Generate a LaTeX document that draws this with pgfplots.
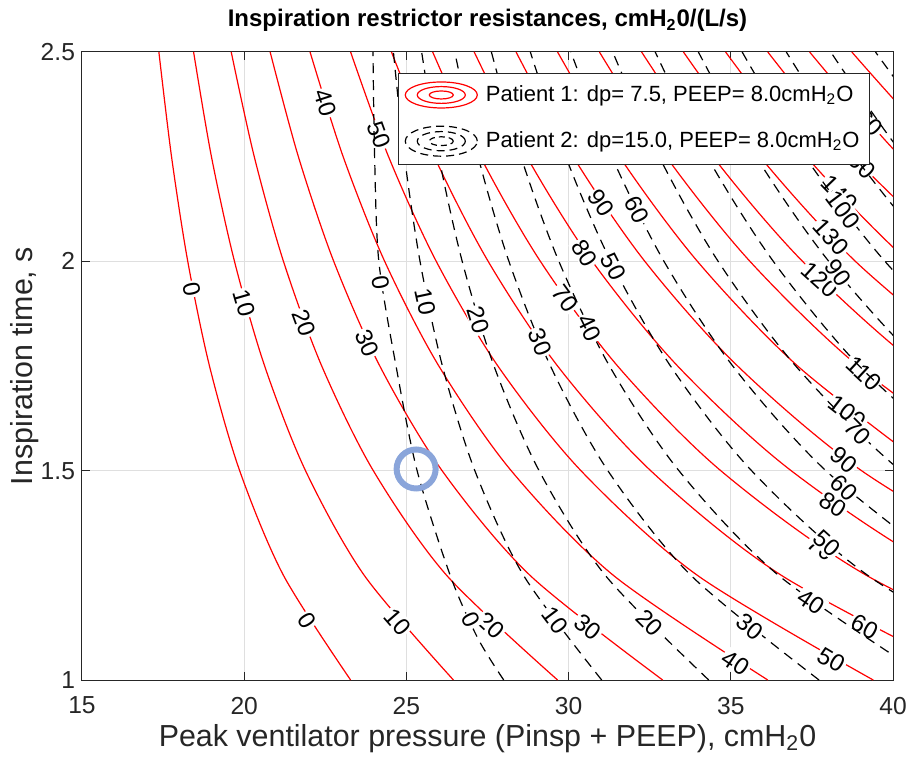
\documentclass[border=0pt]{standalone}
\usepackage{pgfplots}
\pgfplotsset{compat=1.18}
\usepackage{fontspec}
\setmainfont{Liberation Sans}
\definecolor{axgray}{RGB}{38,38,38}
\definecolor{gridgray}{RGB}{223,223,223}
\definecolor{circblue}{RGB}{138,165,218}

\begin{document}
\begin{tikzpicture}[
  clab/.style={fill=white, inner sep=0.8pt, font=\fontsize{12}{12}\selectfont},
  bdash/.style={dash pattern=on 5pt off 3.5pt}
]
\begin{axis}[
  name=ax,
  scale only axis, width=405.5pt, height=314pt,
  xmin=15, xmax=40, ymin=1, ymax=2.5,
  xtick={15,20,...,40}, ytick={1,1.5,2,2.5},
  xtick pos=both, ytick pos=both,
  grid=major, grid style={gridgray, line width=0.5pt},
  axis line style={axgray, line width=0.5pt},
  tick style={axgray, line width=0.5pt},
  tick align=inside, major tick length=4pt,
  ticklabel style={font=\fontsize{12.3}{14}\selectfont, text=axgray},
  xticklabel style={yshift=-5pt},
  /pgf/number format/assume math mode=true,
  title={\bfseries Inspiration restrictor resistances, cmH\textsubscript{2}0/(L/s)},
  title style={at={(axis description cs:0.5,1)}, anchor=base, yshift=6.5pt,
    font=\fontsize{12}{15}\selectfont},
  xlabel={Peak ventilator pressure (Pinsp + PEEP), cmH\textsubscript{2}0},
  xlabel style={at={(axis description cs:0.5,0)}, anchor=base, yshift=-33pt,
    font=\fontsize{15.2}{18}\selectfont, text=axgray},
  ylabel={Inspiration time, s},
  ylabel style={at={(axis description cs:-0.0703,0.5)}, anchor=center,
    font=\fontsize{15.2}{18}\selectfont, text=axgray},
  legend cell align=left,
  legend style={at={(axis description cs:0.39,0.9666)}, anchor=north west,
    draw=axgray, fill=white, font=\fontsize{11}{13}\selectfont,
    inner xsep=3pt, inner ysep=4pt, row sep=8.5pt},
]
\addlegendimage{legend image code/.code={
  \draw[red, line width=0.6pt] (18pt,0pt) ellipse [x radius=18pt, y radius=6.5pt];
  \draw[red, line width=0.6pt] (18pt,0pt) ellipse [x radius=12pt, y radius=4.2pt];
  \draw[red, line width=0.6pt] (18pt,0pt) ellipse [x radius=6pt, y radius=2pt];}}
\addlegendentry{\hspace{2pt}Patient 1: dp= 7.5, PEEP= 8.0cmH\textsubscript{2}O\hspace{3pt}}
\addlegendimage{legend image code/.code={
  \draw[black, line width=0.6pt, dash pattern=on 4pt off 2.5pt] (18pt,0pt) ellipse [x radius=18pt, y radius=7.5pt];
  \draw[black, line width=0.6pt, dash pattern=on 4pt off 2.5pt] (18pt,0pt) ellipse [x radius=12pt, y radius=4.8pt];
  \draw[black, line width=0.6pt, dash pattern=on 3pt off 2pt] (18pt,0pt) ellipse [x radius=6pt, y radius=2.2pt];}}
\addlegendentry{\hspace{2pt}Patient 2: dp=15.0, PEEP= 8.0cmH\textsubscript{2}O\hspace{3pt}}

% ---- patient 1 (red), R = 0,10,...,170
\pgfplotsset{every axis plot/.append style={forget plot}}
\addplot[red, line width=0.6pt, smooth] coordinates {(23.28,1)(21.21,1.25)(19.86,1.5)(18.93,1.75)(18.26,2)(17.76,2.25)(17.37,2.5)};
\addplot[red, line width=0.6pt, smooth] coordinates {(26.45,1)(23.70,1.25)(21.89,1.5)(20.63,1.75)(19.70,2)(18.99,2.25)(18.44,2.5)};
\addplot[red, line width=0.6pt, smooth] coordinates {(29.66,1)(26.24,1.25)(23.98,1.5)(22.39,1.75)(21.21,2)(20.31,2.25)(19.60,2.5)};
\addplot[red, line width=0.6pt, smooth] coordinates {(32.90,1)(28.81,1.25)(26.10,1.5)(24.18,1.75)(22.76,2)(21.67,2.25)(20.80,2.5)};
\addplot[red, line width=0.6pt, smooth] coordinates {(36.14,1)(31.38,1.25)(28.23,1.5)(26.00,1.75)(24.33,2)(23.05,2.25)(22.03,2.5)};
\addplot[red, line width=0.6pt, smooth] coordinates {(39.39,1)(33.97,1.25)(30.38,1.5)(27.82,1.75)(25.92,2)(24.45,2.25)(23.28,2.5)};
\addplot[red, line width=0.6pt, smooth] coordinates {(42.64,1)(36.56,1.25)(32.53,1.5)(29.66,1.75)(27.52,2)(25.86,2.25)(24.54,2.5)};
\addplot[red, line width=0.6pt, smooth] coordinates {(45.90,1)(39.18,1.25)(34.69,1.5)(31.51,1.75)(29.13,2)(27.28,2.25)(25.81,2.5)};
\addplot[red, line width=0.6pt, smooth] coordinates {(49.16,1)(41.78,1.25)(36.86,1.5)(33.36,1.75)(30.73,2)(28.71,2.25)(27.09,2.5)};
\addplot[red, line width=0.6pt, smooth] coordinates {(44.38,1.25)(39.03,1.5)(35.21,1.75)(32.35,2)(30.14,2.25)(28.38,2.5)};
\addplot[red, line width=0.6pt, smooth] coordinates {(41.19,1.5)(37.06,1.75)(33.97,2)(31.57,2.25)(29.66,2.5)};
\addplot[red, line width=0.6pt, smooth] coordinates {(43.36,1.5)(38.92,1.75)(35.59,2)(33.01,2.25)(30.95,2.5)};
\addplot[red, line width=0.6pt, smooth] coordinates {(45.55,1.5)(40.79,1.75)(37.21,2)(34.45,2.25)(32.25,2.5)};
\addplot[red, line width=0.6pt, smooth] coordinates {(42.64,1.75)(38.84,2)(35.90,2.25)(33.54,2.5)};
\addplot[red, line width=0.6pt, smooth] coordinates {(44.50,1.75)(40.47,2)(37.33,2.25)(34.84,2.5)};
\addplot[red, line width=0.6pt, smooth] coordinates {(42.11,2)(38.78,2.25)(36.14,2.5)};
\addplot[red, line width=0.6pt, smooth] coordinates {(43.73,2)(40.23,2.25)(37.43,2.5)};
\addplot[red, line width=0.6pt, smooth] coordinates {(45.36,2)(41.68,2.25)(38.73,2.5)};

\node[clab, rotate=-78] at (axis cs:18.40,1.934) {0};
\node[clab, rotate=-74] at (axis cs:20.00,1.900) {10};
\node[clab, rotate=-70] at (axis cs:21.84,1.853) {20};
\node[clab, rotate=-66] at (axis cs:23.80,1.805) {30};
\node[clab, rotate=-72] at (axis cs:22.50,2.378) {40};
\node[clab, rotate=-70] at (axis cs:24.15,2.302) {50};
\node[clab, rotate=-54] at (axis cs:29.89,1.912) {70};
\node[clab, rotate=-58] at (axis cs:30.50,2.020) {80};
\node[clab, rotate=-56] at (axis cs:31.00,2.139) {90};
\node[clab, rotate=-57] at (axis cs:21.95,1.143) {0};
\node[clab, rotate=-49] at (axis cs:24.72,1.139) {10};
\node[clab, rotate=-43] at (axis cs:27.60,1.131) {20};
\node[clab, rotate=-38] at (axis cs:30.59,1.127) {30};
\node[clab, rotate=-34] at (axis cs:35.15,1.041) {40};
\node[clab, rotate=-31] at (axis cs:38.10,1.048) {50};
\node[clab, rotate=-28] at (axis cs:39.12,1.127) {60};
\node[clab, rotate=-36] at (axis cs:37.78,1.315) {70};
\node[clab, rotate=-33] at (axis cs:38.15,1.418) {80};
\node[clab, rotate=-40] at (axis cs:38.48,1.526) {90};
\node[clab, rotate=-38] at (axis cs:38.60,1.640) {100};
\node[clab, rotate=-43] at (axis cs:39.10,1.733) {110};
\node[clab, rotate=-42] at (axis cs:37.75,1.955) {120};
\node[clab, rotate=-48] at (axis cs:38.09,2.058) {130};
\node[clab, rotate=-46] at (axis cs:38.35,2.163) {140};
\node[clab, rotate=-45] at (axis cs:38.90,2.240) {150};
\node[clab, rotate=-45] at (axis cs:39.14,2.342) {160};

% ---- patient 2 (black dashed), R = 0,10,...,130
\addplot[black, line width=0.6pt, bdash, smooth] coordinates {(28.00,1)(27.20,1.1)(26.35,1.25)(25.33,1.5)(24.68,1.75)(24.15,2)(24.02,2.25)(23.97,2.5)};
\addplot[black, line width=0.6pt, bdash, smooth] coordinates {(31.02,1)(28.61,1.25)(27.11,1.5)(26.11,1.75)(25.42,2)(24.94,2.25)(24.60,2.5)};
\addplot[black, line width=0.6pt, bdash, smooth] coordinates {(34.32,1)(31.13,1.25)(29.09,1.5)(27.70,1.75)(26.72,2)(26.00,2.25)(25.47,2.5)};
\addplot[black, line width=0.6pt, bdash, smooth] coordinates {(37.72,1)(33.77,1.25)(31.21,1.5)(29.44,1.75)(28.16,2)(27.21,2.25)(26.49,2.5)};
\addplot[black, line width=0.6pt, bdash, smooth] coordinates {(41.18,1)(36.47,1.25)(33.40,1.5)(31.26,1.75)(29.70,2)(28.53,2.25)(27.62,2.5)};
\addplot[black, line width=0.6pt, bdash, smooth] coordinates {(44.67,1)(39.22,1.25)(35.64,1.5)(33.14,1.75)(31.30,2)(29.91,2.25)(28.82,2.5)};
\addplot[black, line width=0.6pt, bdash, smooth] coordinates {(41.99,1.25)(37.93,1.5)(35.06,1.75)(32.94,2)(31.33,2.25)(30.07,2.5)};
\addplot[black, line width=0.6pt, bdash, smooth] coordinates {(44.79,1.25)(40.23,1.5)(37.00,1.75)(34.61,2)(32.79,2.25)(31.36,2.5)};
\addplot[black, line width=0.6pt, bdash, smooth] coordinates {(42.54,1.5)(38.96,1.75)(36.31,2)(34.27,2.25)(32.67,2.5)};
\addplot[black, line width=0.6pt, bdash, smooth] coordinates {(44.87,1.5)(40.94,1.75)(38.02,2)(35.78,2.25)(34.00,2.5)};
\addplot[black, line width=0.6pt, bdash, smooth] coordinates {(42.93,1.75)(39.75,2)(37.29,2.25)(35.35,2.5)};
\addplot[black, line width=0.6pt, bdash, smooth] coordinates {(44.93,1.75)(41.48,2)(38.82,2.25)(36.71,2.5)};
\addplot[black, line width=0.6pt, bdash, smooth] coordinates {(43.23,2)(40.35,2.25)(38.08,2.5)};
\addplot[black, line width=0.6pt, bdash, smooth] coordinates {(44.98,2)(41.90,2.25)(39.46,2.5)};

\node[clab, rotate=-80] at (axis cs:24.20,1.948) {0};
\node[clab, rotate=-78] at (axis cs:25.58,1.903) {10};
\node[clab, rotate=-73] at (axis cs:27.23,1.860) {20};
\node[clab, rotate=-68] at (axis cs:29.11,1.807) {30};
\node[clab, rotate=-64] at (axis cs:30.64,1.840) {40};
\node[clab, rotate=-63] at (axis cs:31.38,1.987) {50};
\node[clab, rotate=-63] at (axis cs:32.10,2.123) {60};
\node[clab, rotate=-63] at (axis cs:27.00,1.143) {0};
\node[clab, rotate=-53] at (axis cs:29.58,1.143) {10};
\node[clab, rotate=-45] at (axis cs:32.50,1.136) {20};
\node[clab, rotate=-39] at (axis cs:35.58,1.127) {30};
\node[clab, rotate=-34] at (axis cs:37.48,1.186) {40};
\node[clab, rotate=-42] at (axis cs:37.97,1.327) {50};
\node[clab, rotate=-45] at (axis cs:38.49,1.459) {60};
\node[clab, rotate=-45] at (axis cs:38.91,1.592) {70};
\node[clab, rotate=-55] at (axis cs:38.31,1.972) {90};
\node[clab, rotate=-53] at (axis cs:38.46,2.123) {100};

% ---- operating point
\addplot[only marks, mark=o, mark size=9.75pt, mark options={line width=3pt, draw=circblue}] coordinates {(25.30,1.504)};
\end{axis}
\pgfresetboundingbox
\path ([shift={(-41pt,-43pt)}]ax.south west) rectangle ([shift={(7.5pt,26pt)}]ax.north east);
\end{tikzpicture}
\end{document}
